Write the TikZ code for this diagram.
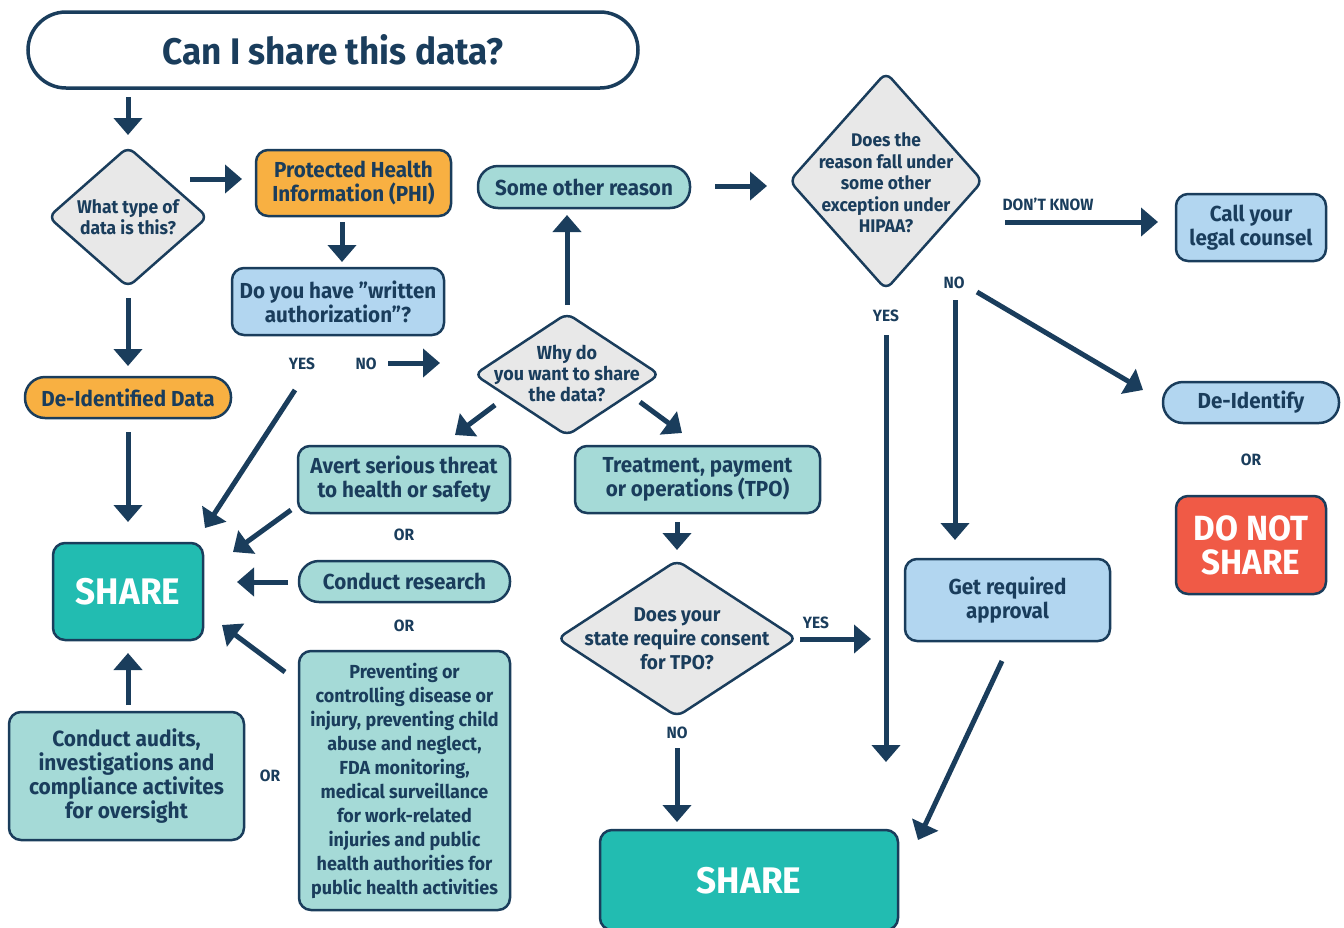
\documentclass[tikz,border=0pt]{standalone}
\usepackage{fontspec}
\setmainfont{Fira Sans}[FakeStretch=0.95]
\usetikzlibrary{arrows.meta,calc,shapes.geometric}
\definecolor{navy}{HTML}{1A3D5C}
\definecolor{orng}{HTML}{F8B042}
\definecolor{lblue}{HTML}{B2D6F0}
\definecolor{lteal}{HTML}{A5DAD7}
\definecolor{teal2}{HTML}{22BCB1}
\definecolor{redbox}{HTML}{F05A46}
\definecolor{grayd}{HTML}{E8E8E8}
\tikzset{
  box/.style={rectangle, rounded corners=12pt, draw=navy, line width=2.5pt, align=center, text=navy, inner sep=0pt, font=\bfseries\fontsize{21.7}{24}\selectfont},
  pill/.style={box, rounded corners=20pt},
  dia/.style={diamond, draw=navy, line width=2.5pt, fill=grayd, rounded corners=8pt, inner sep=0pt},
  diatext/.style={align=center, text=navy, inner sep=0pt, font=\bfseries\fontsize{18.4}{21}\selectfont},
  lbl/.style={text=navy, inner sep=0pt, font=\bfseries\fontsize{16.3}{18}\selectfont},
  arr/.style={draw=navy, line width=5pt, -{Triangle[width=28pt,length=17pt]}},
  bigtxt/.style={text=white, font=\bfseries\fontsize{37}{33}\selectfont}
}
\begin{document}
\begin{tikzpicture}[x=1pt,y=-1pt]
\useasboundingbox (0,0) rectangle (1344,927);
% nodes
\node[box, fill=white, rounded corners=38pt, line width=3.5pt, minimum width=610pt, minimum height=76pt, font=\bfseries\fontsize{37}{40}\selectfont] (title) at (333,50) {Can I share this data?};
\node[dia, minimum width=160pt, minimum height=141pt] (whattype) at (128,217) {};
\node[diatext] (whattypet) at (128,217) {What type of\\data is this?};
\node[box, fill=orng, minimum width=195pt, minimum height=66pt] (phi) at (353.5,183) {Protected Health\\Information (PHI)};
\node[box, fill=lblue, minimum width=212pt, minimum height=67pt] (written) at (338,301.5) {Do you have ”written\\authorization”?};
\node[pill, fill=orng, minimum width=206pt, minimum height=41pt] (deid) at (128,397.5) {De-Identified Data};
\node[box, fill=teal2, minimum width=150pt, minimum height=97pt, bigtxt] (shareL) at (128,591.5) {SHARE};
\node[box, fill=lteal, minimum width=235pt, minimum height=128pt, font=\bfseries\fontsize{22}{24}\selectfont] (audits) at (126.5,776) {Conduct audits,\\investigations and\\compliance activites\\for oversight};
\node[box, fill=lteal, minimum width=212pt, minimum height=67pt] (avert) at (404,479.5) {Avert serious threat\\to health or safety};
\node[pill, fill=lteal, minimum width=211pt, minimum height=41pt] (research) at (404.5,581.5) {Conduct research};
\node[box, fill=lteal, minimum width=211pt, minimum height=259pt, font=\bfseries\fontsize{18.9}{24}\selectfont] (prevent) at (404.5,780.5) {Preventing or\\controlling disease or\\injury, preventing child\\abuse and neglect,\\FDA monitoring,\\medical surveillance\\for work-related\\injuries and public\\health authorities for\\public health activities};
\node[dia, minimum width=186pt, minimum height=123pt] (why) at (567,374.5) {};
\node[diatext, font=\bfseries\fontsize{18.9}{21}\selectfont] (whyt) at (567,373) {Why do\\you want to share\\the data?};
\node[pill, fill=lteal, minimum width=212pt, minimum height=42pt] (other) at (584,187) {Some other reason};
\node[dia, minimum width=194pt, minimum height=218pt] (hipaa) at (886,181) {};
\node[diatext, font=\bfseries\fontsize{18.3}{21.5}\selectfont] (hipaat) at (886,183) {Does the\\reason fall under\\some other\\exception under\\HIPAA?};
\node[box, fill=lblue, minimum width=150pt, minimum height=67pt] (legal) at (1251,227.5) {Call your\\legal counsel};
\node[pill, fill=lblue, minimum width=176pt, minimum height=41pt] (deidentify) at (1251,402.5) {De-Identify};
\node[box, fill=redbox, minimum width=150pt, minimum height=98pt, bigtxt, font=\bfseries\fontsize{35}{34}\selectfont] (donot) at (1251,545) {DO NOT\\SHARE};
\node[box, fill=lteal, minimum width=245pt, minimum height=67pt] (tpo) at (697.5,479.5) {Treatment, payment\\or operations (TPO)};
\node[dia, minimum width=240pt, minimum height=157pt] (consent) at (677,638.5) {};
\node[diatext, font=\bfseries\fontsize{20}{24}\selectfont] (consentt) at (677,639) {Does your\\state require consent\\for TPO?};
\node[box, fill=lblue, minimum width=205pt, minimum height=82pt] (approval) at (1007.5,600) {Get required\\approval};
\node[box, fill=teal2, minimum width=298pt, minimum height=100pt, bigtxt] (shareB) at (749,880) {};
\node[bigtxt] (shareBt) at (749,881) {SHARE};
% labels
\node[lbl] (yes1) at (302,364) {YES};
\node[lbl] (no1) at (366,364) {NO};
\node[lbl] (or1) at (404,535) {OR};
\node[lbl] (or2) at (404,626) {OR};
\node[lbl] (or3) at (270,776) {OR};
\node[lbl] (dk) at (1048,204) {DON’T KNOW};
\node[lbl] (no2) at (954,283) {NO};
\node[lbl] (yes2) at (886,316) {YES};
\node[lbl] (or4) at (1251,460) {OR};
\node[lbl] (yes3) at (816,623) {YES};
\node[lbl] (no3) at (677,733) {NO};
% arrows
\draw[arr] ($(title)+(-205,47)$) -- ($(whattype)+(0,-82)$);
\draw[arr] ($(whattype)+(62,-38)$) -- ($(phi)+(-111.5,-4)$);
\draw[arr] ($(phi)+(-11.5,39)$) -- ($(written)+(4,-39.5)$);
\draw[arr] ($(written)+(50,61.5)$) -- ($(why)+(-127,-11.5)$);
\draw[arr] ($(written)+(-43,88.5)$) -- ($(shareL)+(77,-63.5)$);
\draw[arr] ($(whattype)+(0,81)$) -- ($(deid)+(0,-31.5)$);
\draw[arr] ($(deid)+(0,34.5)$) -- ($(shareL)+(0,-69.5)$);
\draw[arr] ($(audits)+(1.5,-71)$) -- ($(shareL)+(0,61.5)$);
\draw[arr] ($(avert)+(-113,30.5)$) -- ($(shareL)+(105,-39.5)$);
\draw[arr] ($(research)+(-116.5,0.5)$) -- ($(shareL)+(109,-9.5)$);
\draw[arr] ($(prevent)+(-119.5,-108.5)$) -- ($(shareL)+(94,33.5)$);
\draw[arr] ($(why)+(0,-69.5)$) -- ($(other)+(-17,28)$);
\draw[arr] ($(why)+(-72,30.5)$) -- ($(avert)+(51,-44.5)$);
\draw[arr] ($(why)+(73,27.5)$) -- ($(tpo)+(-15.5,-46.5)$);
\draw[arr] ($(other)+(131,-1)$) -- ($(hipaa)+(-119,5)$);
\draw[arr] ($(hipaa)+(119,41)$) -- ($(legal)+(-93,-5.5)$);
\draw[arr] ($(hipaa)+(0,154)$) -- ($(shareB)+(137,-118)$);
\draw[arr] ($(hipaa)+(69,119)$) -- ($(approval)+(-52.5,-60)$);
\draw[arr] ($(hipaa)+(91,111)$) -- ($(deidentify)+(-108,-12.5)$);
\draw[arr] ($(tpo)+(-20.5,42.5)$) -- ($(consent)+(0,-88.5)$);
\draw[arr] ($(consent)+(123,0.5)$) -- ($(approval)+(-136.5,39)$);
\draw[arr] ($(consent)+(0,109.5)$) -- ($(shareB)+(-72,-58)$);
\draw[arr] ($(approval)+(-5.5,61)$) -- ($(shareB)+(169,-40)$);
\end{tikzpicture}
\end{document}
